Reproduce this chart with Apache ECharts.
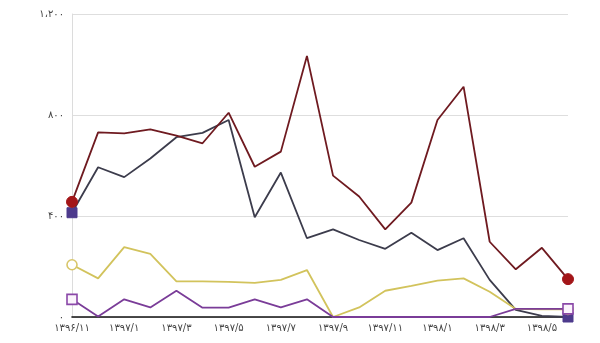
<!DOCTYPE html>
<html>
<head>
<meta charset="utf-8">
<script src="https://cdn.jsdelivr.net/npm/echarts@6/dist/echarts.min.js"></script>
<style>
  html, body { margin: 0; padding: 0; background: #fff; }
  #chart { width: 600px; height: 343px; }
</style>
</head>
<body>
<div id="chart"></div>
<script>
// Monthly periods (Solar Hijri), 1396/11 .. 1398/6
const months = ['1396/11','1396/12','1397/1','1397/2','1397/3','1397/4','1397/5','1397/6',
  '1397/7','1397/8','1397/9','1397/10','1397/11','1397/12','1398/1','1398/2','1398/3',
  '1398/4','1398/5','1398/6'];

const seriesRed    = [456, 731, 727, 743, 718, 688, 809, 595, 655, 1034, 560, 477, 347, 453, 780, 912, 298, 189, 274, 150];
const seriesSlate  = [413, 593, 554, 628, 712, 729, 780, 395, 572, 312, 347, 305, 270, 334, 265, 312, 147, 28, 4, 0];
const seriesYellow = [207, 153, 277, 250, 141, 141, 139, 135, 147, 186, 0, 38, 104, 123, 144, 153, 100, 32, 30, 30];
const seriesPurple = [70, 2, 70, 38, 104, 37, 37, 70, 38, 70, 0, 0, 0, 0, 0, 0, 0, 32, 32, 32];

const yTicks = [0, 400, 800, 1200];

const faDigits = '۰۱۲۳۴۵۶۷۸۹';
function toFa(str) {
  return String(str).replace(/[0-9]/g, d => faDigits[+d]);
}
function faNumber(v) {
  const s = String(v).replace(/\B(?=(\d{3})+(?!\d))/g, '،');
  return toFa(s);
}

// markers only on the first and last point of each line
function endMarked(values, symbol, size, itemStyle) {
  return values.map((v, i) => {
    if (i === 0 || i === values.length - 1) {
      return { value: v, symbol: symbol, symbolSize: size, itemStyle: itemStyle };
    }
    return { value: v, symbol: 'none' };
  });
}

function lineSeries(name, values, color, symbol, size, markerStyle, z) {
  return {
    name: name,
    type: 'line',
    data: endMarked(values, symbol, size, markerStyle),
    showAllSymbol: true,
    symbol: 'none',
    lineStyle: { color: color, width: 1.8 },
    itemStyle: { color: color },
    z: z,
    animation: false
  };
}

const chart = echarts.init(document.getElementById('chart'), null, { renderer: 'canvas' });
chart.setOption({
  backgroundColor: '#ffffff',
  textStyle: { fontFamily: 'DejaVu Sans' },
  grid: { left: 72, right: 32, top: 14, bottom: 26, containLabel: false },
  xAxis: {
    type: 'category',
    data: months,
    boundaryGap: false,
    axisLine: { show: true, lineStyle: { color: '#111', width: 1.6 } },
    axisTick: { show: false },
    axisLabel: {
      interval: 1,
      formatter: v => toFa(v),
      color: '#444',
      fontSize: 10,
      margin: 6,
      fontFamily: 'DejaVu Sans'
    },
    splitLine: { show: false }
  },
  yAxis: {
    type: 'value',
    min: yTicks[0],
    max: yTicks[yTicks.length - 1],
    interval: 400,
    axisLine: { show: true, lineStyle: { color: '#dcdcdc', width: 1 } },
    axisTick: { show: false },
    axisLabel: {
      formatter: v => faNumber(v),
      color: '#444',
      fontSize: 10,
      margin: 8,
      fontFamily: 'DejaVu Sans'
    },
    splitLine: { show: true, lineStyle: { color: '#dedede', width: 1 } }
  },
  series: [
    lineSeries('سری ۱', seriesRed, '#6f1a20', 'circle', 11,
      { color: '#a31518', borderColor: '#a31518' }, 4),
    lineSeries('سری ۲', seriesSlate, '#3c3c4c', 'rect', 10,
      { color: '#4d3a8c', borderColor: '#4d3a8c' }, 3),
    lineSeries('سری ۳', seriesYellow, '#d2c35c', 'circle', 10,
      { color: '#ffffff', borderColor: '#d8c66a', borderWidth: 1.6 }, 5),
    lineSeries('سری ۴', seriesPurple, '#7a3c98', 'rect', 10,
      { color: '#fbf4fc', borderColor: '#8a48a8', borderWidth: 1.6 }, 6)
  ]
});
</script>
</body>
</html>
